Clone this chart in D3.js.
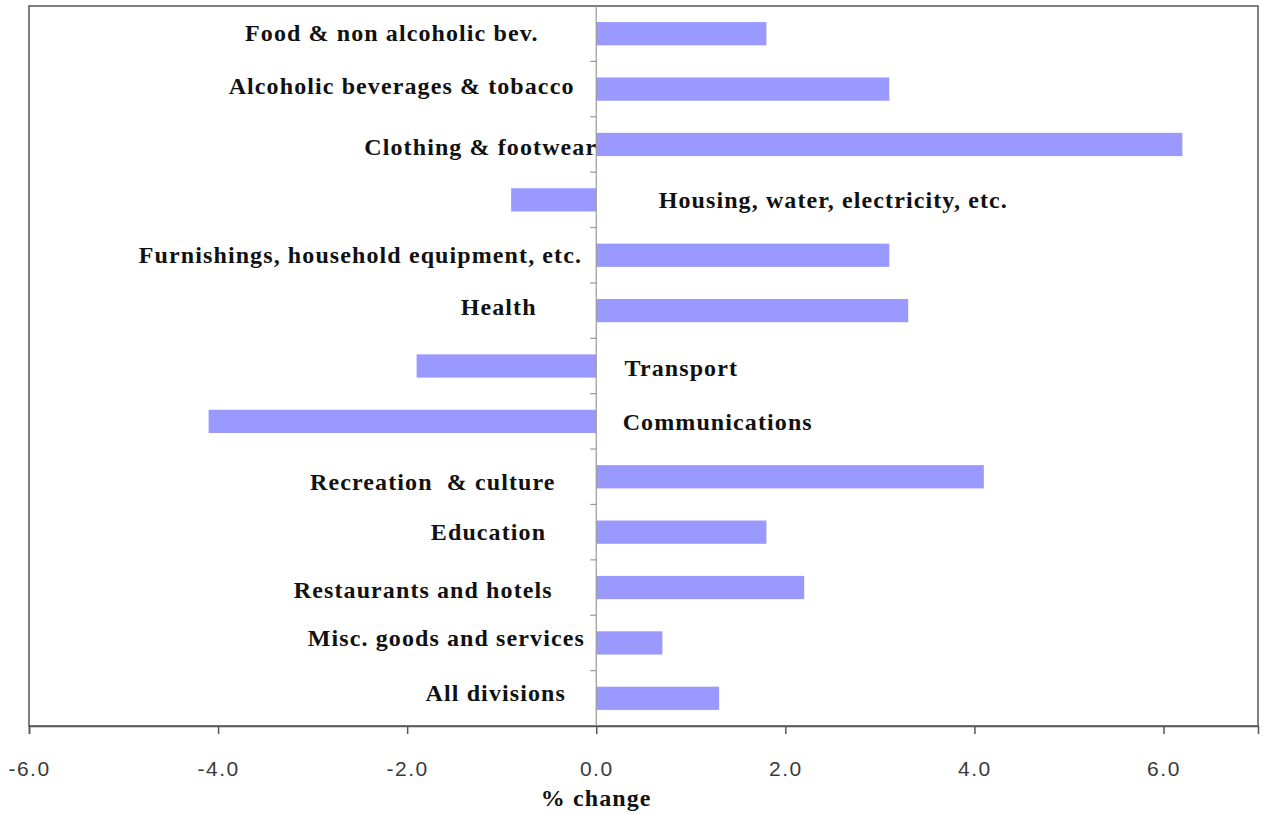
<!DOCTYPE html>
<html>
<head>
<meta charset="utf-8">
<script src="https://cdn.jsdelivr.net/npm/d3@7"></script>
<style>
  html, body { margin: 0; padding: 0; background: #fff; }
  svg { display: block; }
</style>
</head>
<body>
<svg id="chart" width="1264" height="815"></svg>
<script>
// ---- data ----
const categories = [
  "Food & non alcoholic bev.",
  "Alcoholic beverages & tobacco",
  "Clothing & footwear",
  "Housing, water, electricity, etc.",
  "Furnishings, household equipment, etc.",
  "Health",
  "Transport",
  "Communications",
  "Recreation  & culture",
  "Education",
  "Restaurants and hotels",
  "Misc. goods and services",
  "All divisions"
];
const values = [1.8, 3.1, 6.2, -0.9, 3.1, 3.3, -1.9, -4.1, 4.1, 1.8, 2.2, 0.7, 1.3];
const xTickValues = [-6, -4, -2, 0, 2, 4, 6];
const xDomain = [-6, 7];
const axisTitle = "% change";

// label annotation anchors (in axis units) as placed in the original chart
const labelAnchorX = [-0.61, -0.23, 0.01, 0.66, -0.15, -0.63, 0.30, 0.28, -0.43, -0.53, -0.46, -0.12, -0.32];
const labelSide = ["end","end","end","start","end","end","start","start","end","end","end","end","end"];
const labelDy = [-1, -3, 2, 0, -1, -4, 2, 0, 5, -1, 2, -5, -6];

// ---- layout ----
const svg = d3.select("#chart");
const margin = {left: 29, right: 6, top: 6, bottom: 89};
const W = 1264, H = 815;
const iw = W - margin.left - margin.right;
const ih = H - margin.top - margin.bottom;

const g = svg.append("g").attr("transform", `translate(${margin.left},${margin.top})`);

const x = d3.scaleLinear().domain(xDomain).range([0, iw]);
const y = d3.scaleBand().domain(categories).range([0, ih]).paddingInner(0.58).paddingOuter(0.29);
const yb = d3.scaleBand().domain(categories).range([0, ih]);

// plot frame
g.append("rect")
  .attr("x", 0).attr("y", 0).attr("width", iw).attr("height", ih)
  .attr("fill", "none").attr("stroke", "#555").attr("stroke-width", 1.5);

// bars
g.selectAll("rect.bar").data(categories).join("rect")
  .attr("class", "bar")
  .attr("x", (d, i) => x(Math.min(0, values[i])))
  .attr("width", (d, i) => Math.abs(x(values[i]) - x(0)))
  .attr("y", d => y(d))
  .attr("height", y.bandwidth())
  .attr("fill", "#9999ff");

// zero line
g.append("line")
  .attr("x1", x(0)).attr("x2", x(0)).attr("y1", 0).attr("y2", ih)
  .attr("stroke", "#999").attr("stroke-width", 1.2);

// category boundary ticks on zero line
const bounds = categories.slice(1).map(c => yb(c));
g.selectAll("line.ytick").data(bounds).join("line")
  .attr("class", "ytick")
  .attr("x1", x(0) - 6).attr("x2", x(0))
  .attr("y1", d => d).attr("y2", d => d)
  .attr("stroke", "#999").attr("stroke-width", 1.2);

// x axis
const fmt = d => d3.format(".1f")(d).replace("\u2212", "-");
const xAxis = d3.axisBottom(x).tickValues(xTickValues).tickFormat(fmt).tickSize(8).tickPadding(27);
const ax = g.append("g").attr("transform", `translate(0,${ih})`).call(xAxis);
ax.select(".domain").attr("stroke", "#555").attr("stroke-width", 1.5);
ax.selectAll(".tick line").attr("stroke", "#555").attr("stroke-width", 1.5);
ax.selectAll(".tick text")
  .attr("font-family", "Liberation Sans, Arial, sans-serif")
  .attr("font-size", 21).attr("letter-spacing", 1.5).attr("fill", "#3a3a3a");

// axis title
g.append("text")
  .attr("x", x(0)).attr("y", ih + 80)
  .attr("text-anchor", "middle")
  .attr("font-family", "Liberation Serif, Times New Roman, serif")
  .attr("font-weight", "bold").attr("font-size", 24).attr("letter-spacing", 1.1).attr("fill", "#111")
  .text(axisTitle);

// category labels
g.selectAll("text.lab").data(categories).join("text")
  .attr("class", "lab")
  .attr("x", (d, i) => x(labelAnchorX[i]))
  .attr("y", (d, i) => yb(d) + yb.bandwidth() / 2 + labelDy[i])
  .attr("dy", "0.35em")
  .attr("text-anchor", (d, i) => labelSide[i])
  .attr("font-family", "Liberation Serif, Times New Roman, serif")
  .attr("font-weight", "bold").attr("font-size", 24).attr("letter-spacing", 1.1).attr("fill", "#111")
  .style("white-space", "pre")
  .text(d => d);
</script>
</body>
</html>
